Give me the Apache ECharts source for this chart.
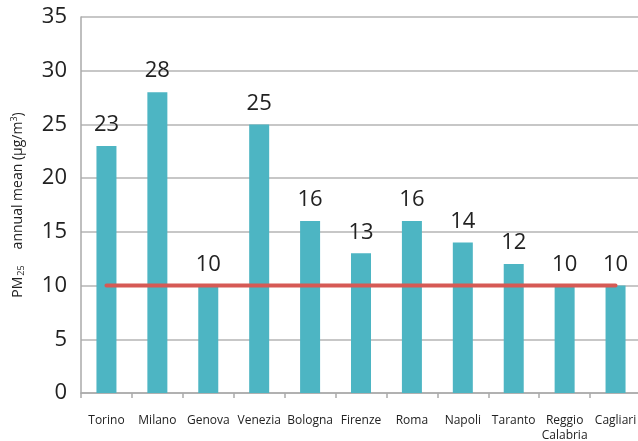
<!DOCTYPE html>
<html>
<head>
<meta charset="utf-8">
<script src="https://cdn.jsdelivr.net/npm/echarts@6/dist/echarts.min.js"></script>
<style>
  html, body { margin: 0; padding: 0; background: #fff; }
  #chart { width: 638px; height: 441px; }
</style>
</head>
<body>
<div id="chart"></div>
<script>
const cities = ['Torino', 'Milano', 'Genova', 'Venezia', 'Bologna', 'Firenze', 'Roma', 'Napoli', 'Taranto', 'Reggio\nCalabria', 'Cagliari'];
const pm25 = [23, 28, 10, 25, 16, 13, 16, 14, 12, 10, 10];
const limit = [10, 10, 10, 10, 10, 10, 10, 10, 10, 10, 10];

const chart = echarts.init(document.getElementById('chart'), undefined, { renderer: 'canvas' });
const font = '"Open Sans", "Noto Sans", sans-serif';

chart.setOption({
    animation: false,
    textStyle: { fontFamily: font },
    grid: { left: 81, right: -3, top: 17, bottom: 48, outerBoundsMode: 'none', containLabel: false },
    xAxis: {
        type: 'category',
        data: cities,
        axisLine: { lineStyle: { color: '#aaaaaa', width: 1.5 } },
        axisTick: { show: true, length: 5, lineStyle: { color: '#aaaaaa', width: 1.5 } },
        axisLabel: { color: '#222', fontSize: 12, margin: 20, lineHeight: 15, fontFamily: font, interval: 0 }
    },
    yAxis: {
        type: 'value',
        min: 0,
        max: 35,
        interval: 5,
        axisLine: { show: true, lineStyle: { color: '#aaaaaa', width: 1.5 } },
        axisTick: { show: false },
        splitLine: { lineStyle: { color: '#b4b4b4', width: 1.5 } },
        axisLabel: { color: '#222', fontSize: 22, margin: 14, fontFamily: font },
        name: 'PM{sub|25}annual mean (µg/m{sup|3})',
        nameLocation: 'middle',
        nameGap: 55,
        nameTextStyle: {
            color: '#222',
            fontSize: 14,
            fontFamily: font,
            rich: {
                sub: { fontSize: 9, verticalAlign: 'bottom', padding: [7, 16, 0, 1] },
                sup: { fontSize: 9, verticalAlign: 'top', padding: [0, 0, 7, 0] }
            }
        }
    },
    series: [
        {
            type: 'bar',
            data: pm25,
            barWidth: 20,
            itemStyle: { color: '#4db5c3' },
            label: { show: true, position: 'top', distance: 10, color: '#222', fontSize: 22, fontFamily: font }
        },
        {
            type: 'line',
            data: limit,
            showSymbol: false,
            symbol: 'none',
            z: 5,
            lineStyle: { color: '#d65a55', width: 4, cap: 'round' }
        }
    ]
});
</script>
</body>
</html>
